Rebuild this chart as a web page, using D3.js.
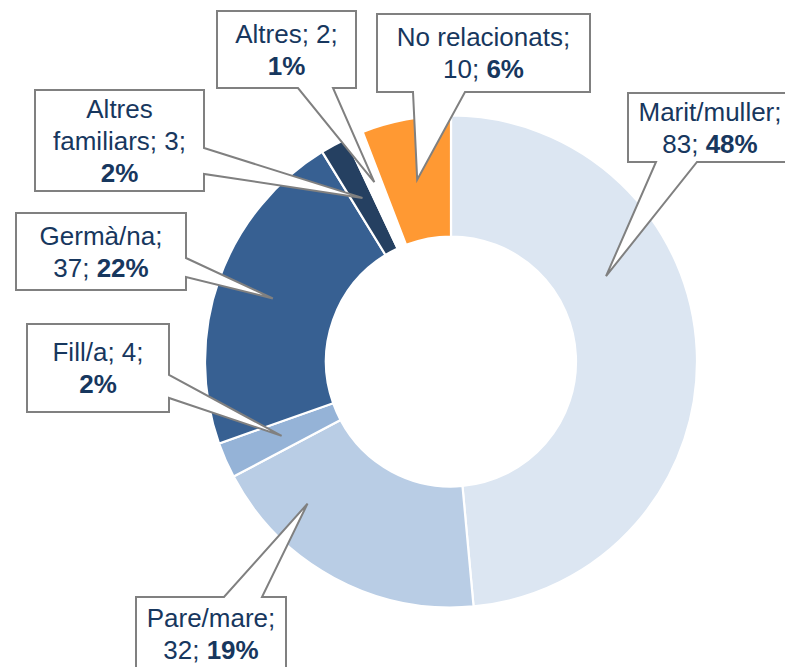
<!DOCTYPE html>
<html>
<head>
<meta charset="utf-8">
<script src="https://cdn.jsdelivr.net/npm/d3@7"></script>
<style>
  html, body { margin: 0; padding: 0; background: #ffffff; }
  svg { display: block; }
</style>
</head>
<body>
<script>
// ---- data ----
const categories = ["Marit/muller", "Pare/mare", "Fill/a", "Germà/na", "Altres familiars", "Altres", "No relacionats"];
const values = [83, 32, 4, 37, 3, 2, 10];
const percents = [48, 19, 2, 22, 2, 1, 6];
const colors = ["#dce6f2", "#b9cde5", "#95b3d7", "#376092", "#254061", "#ffffff", "#ff9933"];

// ---- layout of the callouts (box: x, y, w, h; tail side and base; tip inside slice) ----
const callouts = [
  { box: [628, 93, 164, 69],  side: "bottom", base: [656, 697], tipT: 0.35, tipR: 177, lines: ["{name};", "{value}; {pct}"] },
  { box: [136, 597, 150, 74], side: "top",    base: [224, 262], tipT: 0.75, tipR: 202, lines: ["{name};", "{value}; {pct}"] },
  { box: [27, 324, 142, 88],  side: "right",  base: [375, 398], tipT: 0.5,  tipR: 185, lines: ["{name}; {value};", "{pct}"] },
  { box: [16, 213, 170, 77],  side: "right",  base: [258, 277], tipT: 0.5,  tipR: 189, lines: ["{name};", "{value}; {pct}"] },
  { box: [35, 90, 169, 101],  side: "right",  base: [148, 174], tipT: 0.5,  tipR: 186, lines: ["{w0}", "{w1}; {value};", "{pct}"] },
  { box: [217, 11, 139, 77],  side: "bottom", base: [298, 333], tipT: 0.5,  tipR: 195, lines: ["{name}; {value};", "{pct}"] },
  { box: [377, 14, 213, 78],  side: "bottom", base: [413, 465], tipT: 0.5,  tipR: 185, lines: ["{name};", "{value}; {pct}"] }
];

const W = 785, H = 667;
const cx = 451, cy = 361.5, R = 246, r0 = 125;
const fontSize = 26, lineH = 32;
const textColor = "#17375e";

const svg = d3.select("body").append("svg").attr("width", W).attr("height", H);
svg.append("rect").attr("width", W).attr("height", H).attr("fill", "#ffffff");

const pie = d3.pie().sort(null).value(d => d.value).startAngle(0).endAngle(2 * Math.PI);
const arc = d3.arc().innerRadius(r0).outerRadius(R);
const rows = categories.map((c, i) => ({ name: c, value: values[i], pct: percents[i], color: colors[i], i }));
const arcs = pie(rows);

const g = svg.append("g").attr("transform", `translate(${cx},${cy})`);
g.selectAll("path.slice").data(arcs).join("path")
  .attr("class", "slice")
  .attr("d", arc)
  .attr("fill", d => d.data.color)
  .attr("stroke", "#ffffff")
  .attr("stroke-width", 2.2);

function tipPoint(a, c) {
  const ang = a.startAngle + c.tipT * (a.endAngle - a.startAngle);
  return [cx + c.tipR * Math.sin(ang), cy - c.tipR * Math.cos(ang)];
}

function calloutPath(c, tip) {
  const [x, y, w, h] = c.box;
  const x1 = x + w, y1 = y + h;
  const p = d3.path();
  p.moveTo(x, y);
  if (c.side === "top") { p.lineTo(c.base[0], y); p.lineTo(tip[0], tip[1]); p.lineTo(c.base[1], y); }
  p.lineTo(x1, y);
  if (c.side === "right") { p.lineTo(x1, c.base[0]); p.lineTo(tip[0], tip[1]); p.lineTo(x1, c.base[1]); }
  p.lineTo(x1, y1);
  if (c.side === "bottom") { p.lineTo(c.base[1], y1); p.lineTo(tip[0], tip[1]); p.lineTo(c.base[0], y1); }
  p.lineTo(x, y1);
  p.closePath();
  return p.toString();
}

const lab = svg.append("g");
arcs.forEach((a, i) => {
  const c = callouts[i];
  const tip = tipPoint(a, c);
  lab.append("path")
    .attr("d", calloutPath(c, tip))
    .attr("fill", "#ffffff")
    .attr("stroke", "#808080")
    .attr("stroke-width", 2)
    .attr("stroke-linejoin", "miter");

  const [x, y, w, h] = c.box;
  const bx = x + w / 2, by = y + h / 2;
  const words = a.data.name.split(" ");
  const n = c.lines.length;
  c.lines.forEach((tpl, li) => {
    const t = lab.append("text")
      .attr("x", bx)
      .attr("y", by + (li - (n - 1) / 2) * lineH + 0.35 * fontSize)
      .attr("text-anchor", "middle")
      .attr("font-family", "'Liberation Sans', Arial, sans-serif")
      .attr("font-size", fontSize)
      .attr("fill", textColor);
    const parts = tpl.split(/(\{pct\})/);
    parts.forEach(part => {
      if (part === "") return;
      if (part === "{pct}") {
        t.append("tspan").attr("font-weight", "bold").text(a.data.pct + "%");
      } else {
        const s = part.replace("{name}", a.data.name)
          .replace("{value}", a.data.value)
          .replace("{w0}", words[0])
          .replace("{w1}", words[1] || "");
        t.append("tspan").attr("xml:space", "preserve").style("white-space", "pre").text(s);
      }
    });
  });
});
</script>
</body>
</html>
